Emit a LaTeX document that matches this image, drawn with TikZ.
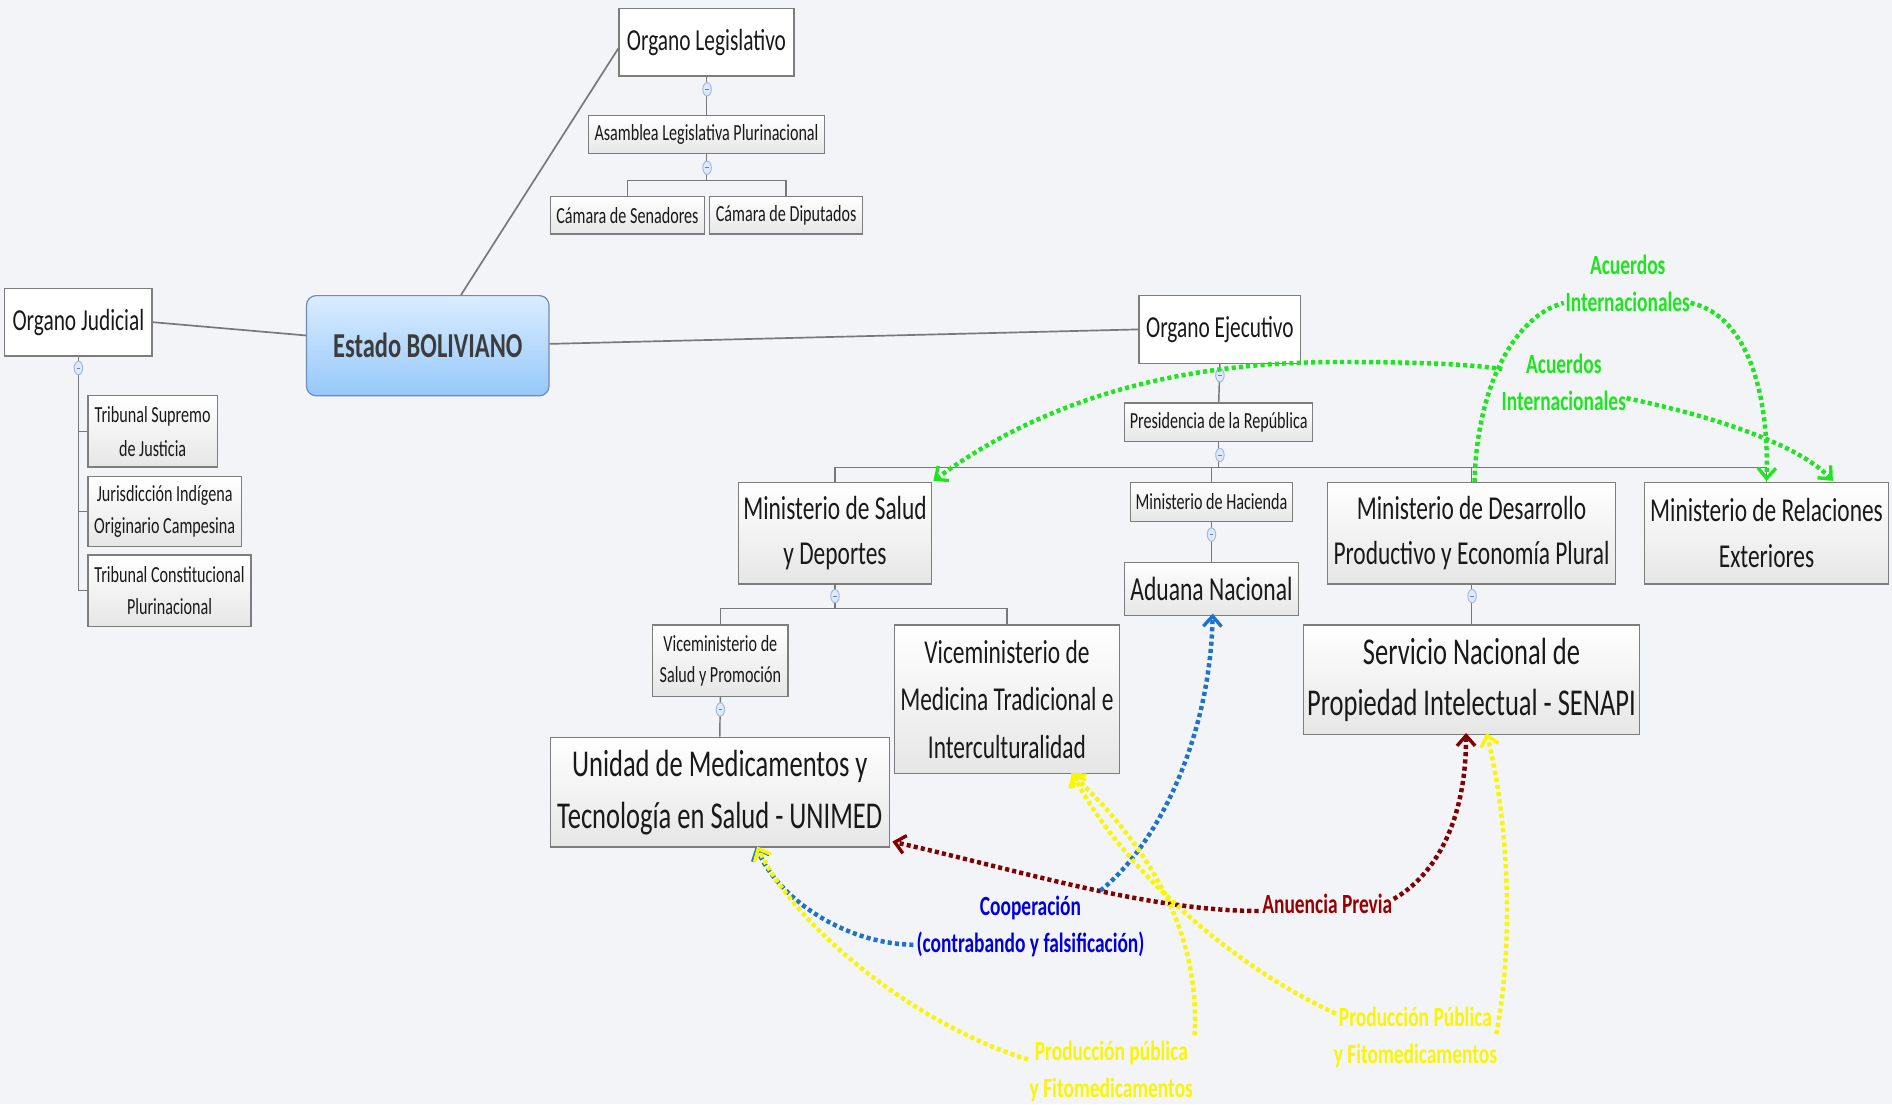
\documentclass[tikz,border=0pt]{standalone}
\usepackage{fontspec}
\setmainfont{Carlito}[FakeStretch=0.7]
\usetikzlibrary{arrows.meta}
\definecolor{bg}{RGB}{243,244,248}
\definecolor{boxline}{RGB}{125,125,125}
\definecolor{boxbot}{RGB}{230,230,230}
\definecolor{txt}{RGB}{25,25,25}
\definecolor{treeline}{RGB}{120,120,120}
\definecolor{esttop}{RGB}{218,236,255}
\definecolor{estbot}{RGB}{150,200,250}
\definecolor{estline}{RGB}{110,140,180}
\definecolor{estxt}{RGB}{60,60,60}
\definecolor{collfill}{RGB}{222,233,250}
\definecolor{colldraw}{RGB}{160,185,225}
\definecolor{lgreen}{RGB}{30,230,30}
\definecolor{lyellow}{RGB}{250,245,0}
\definecolor{lred}{RGB}{130,0,0}
\definecolor{lredtxt}{RGB}{150,0,0}
\definecolor{lblue}{RGB}{30,115,200}
\definecolor{lbluetxt}{RGB}{0,0,220}
\newcommand\myfs[2]{\fontsize{#1}{#2}\selectfont}
\newcommand\collmark[2]{%
  \filldraw[fill=collfill,draw=colldraw,line width=0.8pt] (#1,#2) ellipse [x radius=3.5, y radius=5.5];
  \draw[colldraw!70!black,line width=0.6pt] (#1-1.5,#2) -- (#1+1.5,#2);}
\begin{document}
\begin{tikzpicture}[x=1pt,y=-1pt,
  sz/.style 2 args={minimum width=#1pt,minimum height=#2pt},
  box/.style={draw=boxline,line width=1pt,top color=white,bottom color=boxbot,inner sep=0pt,align=center,text=txt},
  wbox/.style={draw=boxline,line width=1pt,fill=white,inner sep=0pt,align=center,text=txt},
  orgf/.style={font=\myfs{25.3}{30}},
  smallf/.style={font=\myfs{19.1}{28}},
  medf/.style={font=\myfs{27.9}{38}},
  bigf/.style={font=\myfs{31.4}{43}},
  lab/.style={inner sep=0pt,align=center,font=\bfseries\myfs{23}{30.5}},
  tree/.style={draw=treeline,line width=1.2pt},
  rel/.style={line width=3.7pt,dash pattern=on 3.4pt off 2.6pt},
  >={Straight Barb[length=8.5pt,width=15pt,line width=2.8pt]}
]
\useasboundingbox (0,0) rectangle (1568,915);
\fill[bg] (0,0) rectangle (1568,915);

% ---------- nodes ----------
\node[wbox,orgf,sz={145}{56}] (ol) at (585.5,35) {Organo Legislativo};
\node[box,smallf,sz={195}{31}] (asm) at (585.5,111.5) {Asamblea Legislativa Plurinacional};
\node[box,smallf,sz={128}{31}] (sen) at (520,178.5) {Cámara de Senadores};
\node[box,smallf,sz={127}{31}] (dip) at (651.5,178.5) {Cámara de Diputados};

\node[wbox,orgf,sz={122}{56}] (oj) at (65,267) {Organo Judicial};
\node[box,smallf,sz={107}{59}] (tsj) at (126.5,357.5) {Tribunal Supremo\\de Justicia};
\node[box,font=\myfs{19.1}{27},sz={127}{58}] (jioc) at (136.5,424) {Jurisdicción Indígena\\Originario Campesina};
\node[box,font=\myfs{19.1}{27},sz={135}{59}] (tcp) at (140.5,489.5) {Tribunal Constitucional\\Plurinacional};

\node[draw=estline,line width=1pt,rounded corners=8pt,top color=esttop,bottom color=estbot,
      inner sep=0pt,sz={201}{83},text=estxt,font=\bfseries\myfs{29}{30}] (est) at (354.5,286.5) {Estado BOLIVIANO};

\node[wbox,orgf,sz={134}{56}] (oe) at (1011,273) {Organo Ejecutivo};
\node[box,smallf,sz={156}{32}] (pres) at (1010,350) {Presidencia de la República};
\node[box,font=\myfs{27.7}{37},sz={160}{84}] (msd) at (692,442) {Ministerio de Salud\\y Deportes};
\node[box,smallf,sz={134}{32}] (mh) at (1004,416) {Ministerio de Hacienda};
\node[box,font=\myfs{27.7}{37},sz={239}{84}] (mdp) at (1219.5,442) {Ministerio de Desarrollo\\Productivo y Economía Plural};
\node[box,font=\myfs{27.7}{38},sz={202}{84}] (mre) at (1464,442) {Ministerio de Relaciones\\Exteriores};
\node[box,medf,sz={144}{44}] (adu) at (1004,488) {Aduana Nacional};
\node[box,font=\myfs{19.1}{26},sz={112}{59}] (vsp) at (597,547.5) {Viceministerio de\\Salud y Promoción};
\node[box,font=\myfs{27.7}{39.5},sz={187}{123}] (vmt) at (834.5,579.5) {Viceministerio de\\Medicina Tradicional e\\Interculturalidad};
\node[box,bigf,sz={281}{91}] (uni) at (596.5,656.5) {Unidad de Medicamentos y\\Tecnología en Salud - UNIMED};
\node[box,bigf,sz={279}{91}] (sena) at (1219.5,563.5) {Servicio Nacional de\\Propiedad Intelectual - SENAPI};

% ---------- main connectors ----------
\draw[tree,line width=1.4pt] ([xshift=27.5pt]est.north) -- ([yshift=-5pt]ol.west);
\draw[tree,line width=1.4pt] ([yshift=8.5pt]est.west) -- (oj.east);
\draw[tree,line width=1.4pt] ([yshift=1.5pt]est.east) -- (oe.west);

% ---------- tree connectors ----------
\draw[tree] (ol.south) -- (asm.north);
\draw[tree] (asm.south) -- ++(0,22) coordinate (a1);
\draw[tree] (sen.north) |- (a1) -| (dip.north);

\draw[tree] (oj.south) -- (oj.south |- tcp.west) -- (tcp.west);
\draw[tree] (oj.south |- tsj.west) -- (tsj.west);
\draw[tree] (oj.south |- jioc.west) -- (jioc.west);

\draw[tree] (oe.south) -- (pres.north);
\draw[tree] (pres.south) -- ++(0,21) coordinate (p1);
\draw[tree] (msd.north) |- (p1) -| (mre.north);
\draw[tree] (mh.north) -- (mh.north |- p1);
\draw[tree] (mdp.north) -- (mdp.north |- p1);
\draw[tree] (mh.south) -- (adu.north);
\draw[tree] (msd.south) -- ++(0,20) coordinate (m1);
\draw[tree] (vsp.north) |- (m1) -| (vmt.north);
\draw[tree] (vsp.south) -- (uni.north);
\draw[tree] (mdp.south) -- (sena.north);

\collmark{586}{74}
\collmark{586}{139}
\collmark{65}{305}
\collmark{1011}{311}
\collmark{1011}{377}
\collmark{1004}{443}
\collmark{692}{494}
\collmark{597}{588}
\collmark{1220}{494}

% ---------- relationship labels ----------
\node[lab,text=lgreen] (la) at (1349,235) {Acuerdos\\Internacionales};
\node[lab,text=lgreen] (lb) at (1296,317) {Acuerdos\\Internacionales};
\node[lab,text=lbluetxt] (lc) at (854,768) {Cooperación\\(contrabando y falsificación)};
\node[lab,text=lredtxt] (ld) at (1100,749) {Anuencia Previa};
\node[lab,text=lyellow] (le) at (921,888) {Producción pública\\y Fitomedicamentos};
\node[lab,text=lyellow] (lf) at (1173,860) {Producción Pública\\y Fitomedicamentos};

% ---------- relationships ----------
% green A
\draw[rel,lgreen] ([xshift=2.5pt]mdp.north) .. controls (1224,320) and (1255,262) .. ([shift={(-53,16)}]la.center);
\draw[rel,lgreen,->] ([shift={(52,16)}]la.center) .. controls (1450,262) and (1466,330) .. ([yshift=1pt]mre.north);
% green B
\draw[rel,lgreen,<-] ([shift={(1,-1)}]msd.north east) .. controls (880,320) and (1000,300) .. (1110,300)
      .. controls (1180,300) and (1220,302) .. ([shift={(-51,-11)}]lb.center);
\draw[rel,lgreen,->] ([shift={(52,13)}]lb.center) .. controls (1420,345) and (1490,368) .. ([xshift=55pt,yshift=1pt]mre.north);
% red
\draw[rel,lred,->] ([shift={(55,-4)}]ld.center) .. controls (1190,725) and (1215,680) .. ([shift={(-4.5,-2)}]sena.south);
\draw[rel,lred,->] ([shift={(-57,6)}]ld.center) .. controls (950,755) and (840,720) .. ([shift={(2,-5)}]uni.south east);
% blue
\draw[rel,lblue,->] ([shift={(58,-30)}]lc.center) .. controls (960,700) and (1003,610) .. ([shift={(1,-2)}]adu.south);
\draw[rel,lblue,->] ([shift={(-97,15)}]lc.center) .. controls (700,782) and (645,745) .. ([shift={(30,-1)}]uni.south);
% yellow 1
\draw[rel,lyellow,->] ([shift={(-69,-10)}]le.center) .. controls (760,850) and (660,770) .. ([shift={(31,-1)}]uni.south);
\draw[rel,lyellow,->] ([shift={(69,-30)}]le.center) .. controls (995,770) and (950,700) .. ([shift={(53,-1)}]vmt.south);
% yellow 2
\draw[rel,lyellow,->] ([shift={(-66,-20)}]lf.center) .. controls (1020,800) and (930,720) .. ([shift={(54,-1)}]vmt.south);
\draw[rel,lyellow,->] ([shift={(67,-3)}]lf.center) .. controls (1255,780) and (1250,680) .. ([shift={(12.5,-2)}]sena.south);
\end{tikzpicture}
\end{document}
